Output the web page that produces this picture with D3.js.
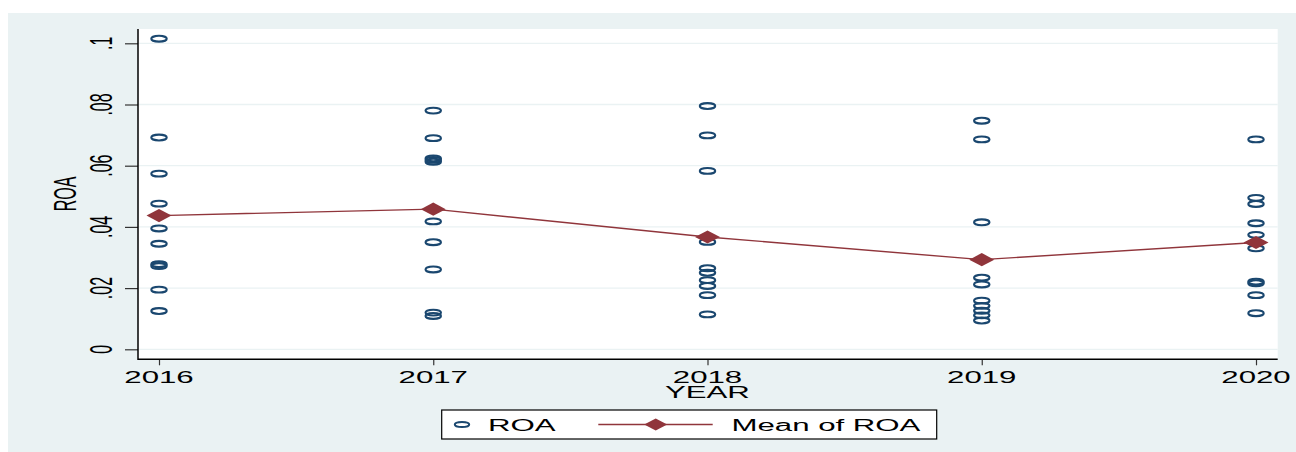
<!DOCTYPE html>
<html><head><meta charset="utf-8">
<script src="https://cdn.jsdelivr.net/npm/d3@7"></script>
<style>html,body{margin:0;padding:0;background:#fff;}svg{display:block;}</style>
</head><body>
<svg id="c" width="1296" height="452"></svg>
<script>
const years = [2016, 2017, 2018, 2019, 2020];
const roa2016 = [0.1015, 0.0692, 0.0574, 0.0476, 0.0395, 0.0345, 0.0278, 0.0272, 0.0195, 0.0125];
const roa2017 = [0.0780, 0.0690, 0.0624, 0.0619, 0.0613, 0.0418, 0.0350, 0.0261, 0.0120, 0.0109];
const roa2018 = [0.0795, 0.0699, 0.0583, 0.0351, 0.0265, 0.0250, 0.0226, 0.0207, 0.0177, 0.0114];
const roa2019 = [0.0747, 0.0686, 0.0415, 0.0234, 0.0212, 0.0159, 0.0142, 0.0126, 0.0111, 0.0094];
const roa2020 = [0.0686, 0.0495, 0.0475, 0.0412, 0.0374, 0.0330, 0.0221, 0.0216, 0.0177, 0.0118];
const meanROA = [0.0437, 0.0458, 0.0367, 0.0293, 0.0349];
const yTicks = [0, 0.02, 0.04, 0.06, 0.08, 0.1];
const yTickLabels = ["0", ".02", ".04", ".06", ".08", ".1"];
const xTickLabels = ["2016", "2017", "2018", "2019", "2020"];

const roaByYear = [roa2016, roa2017, roa2018, roa2019, roa2020];
const points = [];
years.forEach((yr, i) => roaByYear[i].forEach(v => points.push({year: yr, v})));

const BG = "#EAF2F3", NAVY = "#1A476F", MAROON = "#90353B";
const FONT = "'Liberation Sans', Arial, sans-serif";
const FS = 16, SX = 1.95;

const svg = d3.select("#c");
const plot = {l: 138, t: 29, r: 1277.7, b: 359.3};

const x = d3.scaleLinear().domain([2016, 2020]).range([159, 1256]);
const y = d3.scaleLinear().domain([0, 0.1]).range([349.3, 43.3]);

svg.append("rect").attr("x", 8).attr("y", 13).attr("width", 1288).attr("height", 439).attr("fill", BG);
svg.append("rect").attr("x", plot.l).attr("y", plot.t).attr("width", plot.r - plot.l).attr("height", plot.b - plot.t).attr("fill", "#fff");

// gridlines
svg.append("g").selectAll("line").data(yTicks).join("line")
  .attr("x1", plot.l).attr("x2", plot.r)
  .attr("y1", d => y(d)).attr("y2", d => y(d))
  .attr("stroke", BG).attr("stroke-width", 1.3);

// y axis ticks
const yAx = svg.append("g").attr("transform", `translate(${plot.l},0)`)
  .call(d3.axisLeft(y).tickValues(yTicks).tickSize(13).tickSizeOuter(0).tickFormat(""));
yAx.select(".domain").remove();
yAx.selectAll(".tick line").attr("stroke", "#333").attr("stroke-width", 1.2);
svg.append("g").selectAll("text").data(yTicks).join("text")
  .attr("transform", d => `translate(111.5,${y(d)}) scale(${SX},1) rotate(-90)`)
  .attr("text-anchor", "middle").attr("font-family", FONT).attr("font-size", FS).attr("fill", "#000")
  .text((d, i) => yTickLabels[i]);

// x axis ticks
const xAx = svg.append("g").attr("transform", `translate(0,${plot.b})`)
  .call(d3.axisBottom(x).tickValues(years).tickSize(6).tickSizeOuter(0).tickFormat(""));
xAx.select(".domain").remove();
xAx.selectAll(".tick line").attr("stroke", "#333").attr("stroke-width", 1.2);
svg.append("g").selectAll("text").data(years).join("text")
  .attr("transform", d => `translate(${x(d)},383.3) scale(${SX},1)`)
  .attr("text-anchor", "middle").attr("font-family", FONT).attr("font-size", FS).attr("fill", "#000")
  .text((d, i) => xTickLabels[i]);

// axis lines
svg.append("line").attr("x1", plot.l).attr("x2", plot.l).attr("y1", plot.t).attr("y2", plot.b + 0.6)
  .attr("stroke", "#000").attr("stroke-width", 1.5);
svg.append("line").attr("x1", plot.l).attr("x2", plot.r).attr("y1", plot.b).attr("y2", plot.b)
  .attr("stroke", "#000").attr("stroke-width", 1.5);

// axis titles
svg.append("text").attr("transform", `translate(75.5,194) scale(${SX},1) rotate(-90)`)
  .attr("text-anchor", "middle").attr("font-family", FONT).attr("font-size", FS).text("ROA");
svg.append("text").attr("transform", `translate(${(plot.l + plot.r) / 2 - 0.5},397.7) scale(${SX},1)`)
  .attr("text-anchor", "middle").attr("font-family", FONT).attr("font-size", FS).text("YEAR");

// scatter points
svg.append("g").selectAll("ellipse").data(points).join("ellipse")
  .attr("cx", d => x(d.year)).attr("cy", d => y(d.v))
  .attr("rx", 7.7).attr("ry", 2.9)
  .attr("fill", "none").attr("stroke", NAVY).attr("stroke-width", 2.1);

// mean line
const line = d3.line().x((d, i) => x(years[i])).y(d => y(d));
svg.append("path").datum(meanROA).attr("d", line)
  .attr("fill", "none").attr("stroke", MAROON).attr("stroke-width", 1.4);
const diamond = (cx, cy, hw, hh) => `M${cx - hw},${cy}L${cx},${cy - hh}L${cx + hw},${cy}L${cx},${cy + hh}Z`;
svg.append("g").selectAll("path").data(meanROA).join("path")
  .attr("d", (d, i) => diamond(x(years[i]), y(d), 12.5, 6.6))
  .attr("fill", MAROON);

// legend
const lg = svg.append("g");
lg.append("rect").attr("x", 441.7).attr("y", 410).attr("width", 495).attr("height", 29)
  .attr("fill", "#fff").attr("stroke", "#000").attr("stroke-width", 1.2);
lg.append("ellipse").attr("cx", 462).attr("cy", 424.5).attr("rx", 7.2).attr("ry", 2.6)
  .attr("fill", "none").attr("stroke", NAVY).attr("stroke-width", 2);
lg.append("text").attr("transform", `translate(488,430.7) scale(${SX},1)`)
  .attr("font-family", FONT).attr("font-size", FS).text("ROA");
lg.append("line").attr("x1", 598.3).attr("x2", 712.7).attr("y1", 424.5).attr("y2", 424.5)
  .attr("stroke", MAROON).attr("stroke-width", 1.4);
lg.append("path").attr("d", diamond(655.7, 424.5, 11.5, 6)).attr("fill", MAROON);
lg.append("text").attr("transform", `translate(731.5,430.7) scale(${SX},1)`)
  .attr("font-family", FONT).attr("font-size", FS).text("Mean of ROA");
</script>
</body></html>
